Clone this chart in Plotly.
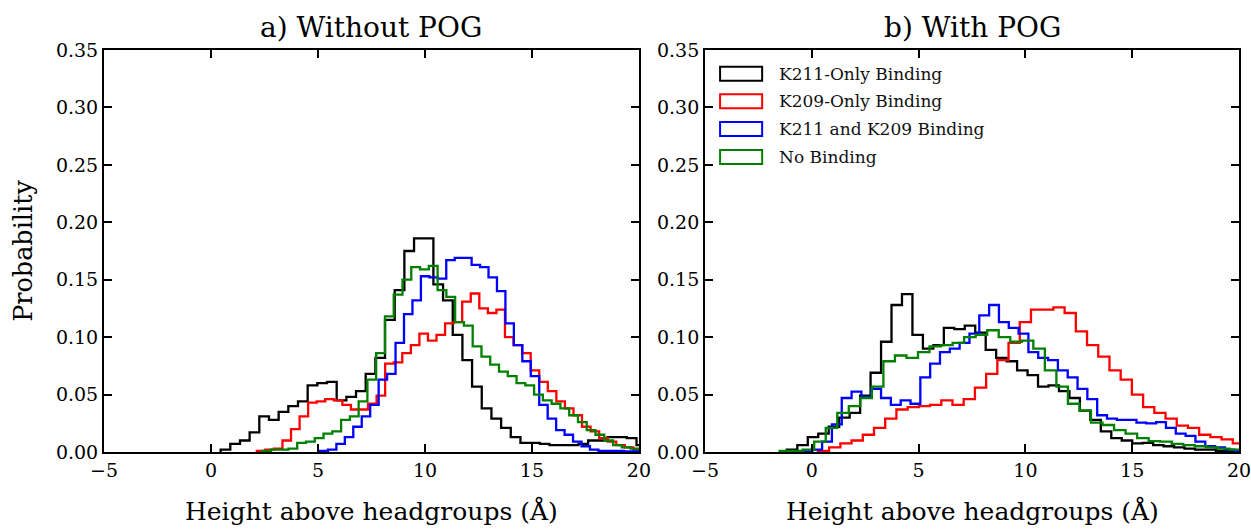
import plotly.graph_objects as go

# ---------------- data (histogram bin start, bin width, probabilities) ----------------
series_names = ["K211-Only Binding", "K209-Only Binding", "K211 and K209 Binding", "No Binding"]
series_colors = ["#000000", "#FF0000", "#0000FF", "#008000"]

# a) Without POG
black_a_start, black_a_width = 0.45, 0.452
black_a = [0.002, 0.007, 0.010, 0.017, 0.031, 0.028, 0.035, 0.040, 0.044, 0.058, 0.060, 0.061,
           0.045, 0.048, 0.053, 0.068, 0.082, 0.115, 0.141, 0.175, 0.186, 0.186, 0.146, 0.132,
           0.102, 0.080, 0.057, 0.038, 0.029, 0.021, 0.013, 0.008, 0.008, 0.007, 0.006, 0.006,
           0.006, 0.007, 0.010, 0.010, 0.013, 0.013, 0.012, 0.006]

red_a_start, red_a_width = 2.14, 0.40
red_a = [0.001, 0.002, 0.003, 0.010, 0.020, 0.031, 0.043, 0.044, 0.046, 0.045, 0.041, 0.037,
         0.037, 0.042, 0.049, 0.077, 0.078, 0.086, 0.093, 0.103, 0.097, 0.102, 0.112, 0.113,
         0.131, 0.138, 0.125, 0.121, 0.124, 0.100, 0.093, 0.086, 0.071, 0.061, 0.053, 0.044,
         0.038, 0.032, 0.022, 0.018, 0.012, 0.009, 0.006, 0.004, 0.002]

blue_a_start, blue_a_width = 5.07, 0.395
blue_a = [0.001, 0.002, 0.007, 0.013, 0.022, 0.031, 0.041, 0.063, 0.068, 0.095, 0.120, 0.132,
          0.153, 0.152, 0.151, 0.167, 0.169, 0.169, 0.163, 0.161, 0.152, 0.140, 0.112, 0.093,
          0.079, 0.066, 0.041, 0.029, 0.019, 0.015, 0.009, 0.005, 0.002, 0.001, 0.001, 0.001,
          0.0005, 0.0005]

green_a_start, green_a_width = 2.39, 0.41
green_a = [0.001, 0.002, 0.002, 0.003, 0.008, 0.009, 0.012, 0.016, 0.018, 0.028, 0.031, 0.044,
           0.063, 0.086, 0.118, 0.137, 0.150, 0.161, 0.159, 0.162, 0.141, 0.135, 0.113, 0.110,
           0.092, 0.083, 0.076, 0.070, 0.066, 0.060, 0.058, 0.050, 0.045, 0.042, 0.038, 0.032,
           0.026, 0.019, 0.015, 0.010, 0.006, 0.004, 0.003, 0.002]

# b) With POG
black_b_start, black_b_width = -1.17, 0.49
black_b = [0.002, 0.006, 0.013, 0.016, 0.022, 0.030, 0.034, 0.049, 0.069, 0.096, 0.128, 0.1375,
           0.102, 0.090, 0.093, 0.108, 0.107, 0.110, 0.104, 0.089, 0.082, 0.079, 0.071, 0.067,
           0.057, 0.058, 0.053, 0.047, 0.036, 0.028, 0.018, 0.012, 0.010, 0.0075, 0.008, 0.006,
           0.005, 0.004, 0.003, 0.002, 0.002, 0.001, 0.001, 0.001]

red_b_start, red_b_width = 0.285, 0.525
red_b = [0.001, 0.004, 0.0075, 0.010, 0.015, 0.021, 0.029, 0.037, 0.039, 0.040, 0.041, 0.045,
         0.041, 0.046, 0.056, 0.068, 0.080, 0.095, 0.113, 0.124, 0.124, 0.126, 0.121, 0.105,
         0.093, 0.083, 0.071, 0.063, 0.050, 0.039, 0.034, 0.029, 0.023, 0.021, 0.015, 0.013,
         0.011, 0.0075]

blue_b_start, blue_b_width = -0.44, 0.46
blue_b = [0.0005, 0.002, 0.009, 0.024, 0.047, 0.0525, 0.048, 0.055, 0.047, 0.041, 0.045, 0.042,
          0.065, 0.077, 0.087, 0.090, 0.095, 0.103, 0.119, 0.128, 0.113, 0.108, 0.103, 0.087,
          0.082, 0.080, 0.071, 0.065, 0.055, 0.046, 0.032, 0.029, 0.028, 0.028, 0.0255, 0.025,
          0.026, 0.021, 0.016, 0.014, 0.009, 0.005, 0.004, 0.002, 0.001]

green_b_start, green_b_width = -1.51, 0.54
green_b = [0.001, 0.001, 0.002, 0.009, 0.021, 0.034, 0.040, 0.047, 0.057, 0.079, 0.084, 0.082,
           0.087, 0.092, 0.093, 0.095, 0.100, 0.102, 0.106, 0.100, 0.096, 0.097, 0.090, 0.071,
           0.057, 0.042, 0.036, 0.0255, 0.0235, 0.019, 0.016, 0.012, 0.0095, 0.009, 0.007, 0.006,
           0.005, 0.004, 0.003, 0.002]

x_ticks = [-5, 0, 5, 10, 15, 20]
y_ticks = [0.00, 0.05, 0.10, 0.15, 0.20, 0.25, 0.30, 0.35]
panel_titles = ["a) Without POG", "b) With POG"]
x_title = "Height above headgroups (Å)"
y_title = "Probability"

panels = [
    [(black_a_start, black_a_width, black_a), (red_a_start, red_a_width, red_a),
     (blue_a_start, blue_a_width, blue_a), (green_a_start, green_a_width, green_a)],
    [(black_b_start, black_b_width, black_b), (red_b_start, red_b_width, red_b),
     (blue_b_start, blue_b_width, blue_b), (green_b_start, green_b_width, green_b)],
]


def step_outline(start, width, values):
    edges = [start + width * i for i in range(len(values) + 1)]
    xs = [edges[0]] + edges[:-1] + [edges[-1]]
    ys = [0.0] + list(values) + [0.0]
    return xs, ys


FONT = "DejaVu Serif"
fig = go.Figure()

# horizontal layout compensation (rendered page appears ~1% narrower horizontally)
SX = 0.99
W, H = 1263, 529
ML = 103 / SX
MR = W - 1236 / SX
MT, MB = 50, 529 - 452
pw = W - ML - MR
ph = H - MT - MB
left_dom = [0.0, (637 / SX - ML) / pw]
right_dom = [(703 / SX - ML) / pw, 1.0]

for p, series in enumerate(panels):
    xa = "x" if p == 0 else "x2"
    ya = "y" if p == 0 else "y2"
    for (start, width, vals), name, color in zip(series, series_names, series_colors):
        xs, ys = step_outline(start, width, vals)
        fig.add_trace(go.Scatter(x=xs, y=ys, mode="lines", line=dict(color=color, width=2.3, shape="hv"),
                                 name=name, showlegend=False, xaxis=xa, yaxis=ya, hoverinfo="skip"))

axis_common = dict(showgrid=False, zeroline=False, showline=True, linecolor="black", linewidth=2,
                   mirror="ticks", ticks="inside", ticklen=8, tickwidth=1.5, tickcolor="black",
                   tickfont=dict(family=FONT, size=19, color="black"))

fig.update_layout(
    width=W, height=H,
    margin=dict(l=ML, r=MR, t=MT, b=MB, pad=0),
    paper_bgcolor="white", plot_bgcolor="white",
    showlegend=False,
    xaxis=dict(domain=left_dom, range=[-5, 20], tickvals=x_ticks, anchor="y", **axis_common),
    yaxis=dict(domain=[0, 1], range=[0, 0.35], tickvals=y_ticks, tickformat=".2f", anchor="x", **axis_common),
    xaxis2=dict(domain=right_dom, range=[-5, 20], tickvals=x_ticks, anchor="y2", **axis_common),
    yaxis2=dict(domain=[0, 1], range=[0, 0.35], tickvals=y_ticks, tickformat=".2f", anchor="x2", **axis_common),
)

annotations = []
for p in range(2):
    xd = "x domain" if p == 0 else "x2 domain"
    yd = "y domain" if p == 0 else "y2 domain"
    annotations.append(dict(text=panel_titles[p], xref=xd, yref=yd, x=0.5, y=(452 - 27) / ph,
                            xanchor="center", yanchor="middle", showarrow=False,
                            font=dict(family=FONT, size=28, color="black")))
    annotations.append(dict(text=x_title, xref=xd, yref=yd, x=0.5, y=(452 - 511) / ph,
                            xanchor="center", yanchor="middle", showarrow=False,
                            font=dict(family=FONT, size=25, color="black")))
annotations.append(dict(text=y_title, xref="paper", yref="paper", x=(22 / SX - ML) / pw, y=(452 - 251) / ph,
                        xanchor="center", yanchor="middle", textangle=-90, showarrow=False,
                        font=dict(family=FONT, size=25.5, color="black")))

# legend (upper left of right panel): outlined rectangles + labels
shapes = []
leg_centers_px = [73.7, 101.3, 129.0, 157.0]
for cy, name, color in zip(leg_centers_px, series_names, series_colors):
    yc = (452 - cy) / ph
    hh = 7 / ph
    shapes.append(dict(type="rect", xref="x2 domain", yref="y2 domain",
                       x0=15 / 533, x1=57 / 533, y0=yc - hh, y1=yc + hh,
                       line=dict(color=color, width=2), fillcolor="rgba(0,0,0,0)"))
    annotations.append(dict(text=name, xref="x2 domain", yref="y2 domain", x=72 / 533, y=yc,
                            xanchor="left", yanchor="middle", showarrow=False,
                            font=dict(family=FONT, size=17, color="#111111")))

fig.update_layout(annotations=annotations, shapes=shapes)
fig.write_html("out.html", config={"displayModeBar": False},
               post_script="document.body.style.margin='0';document.body.style.padding='0';"
                           "document.body.style.overflow='hidden';")
